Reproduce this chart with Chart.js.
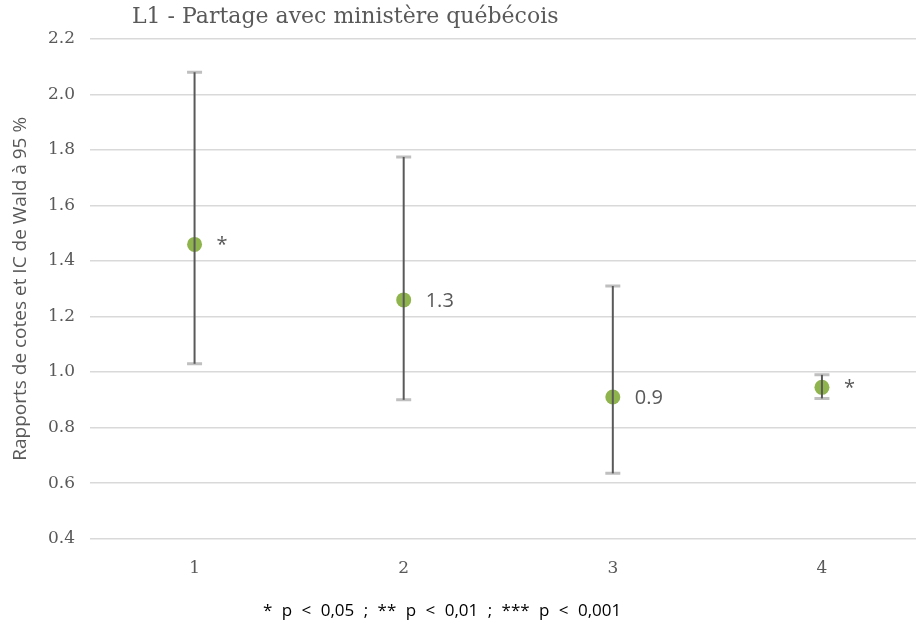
<!DOCTYPE html>
<html>
<head>
<meta charset="utf-8">
<script src="https://cdn.jsdelivr.net/npm/chart.js@4.4.1/dist/chart.umd.min.js"></script>
<style>
  body { margin: 0; background: #fff; overflow: hidden; }
  #wrap { position: absolute; left: 0; top: 0; width: 934px; height: 625px; }
  #title {
    position: absolute; left: 132px; top: 1px; line-height: 30px;
    font-family: "DejaVu Serif", serif; font-size: 22px; color: #595959;
    white-space: nowrap;
  }
  #note {
    position: absolute; left: 263px; top: 598px; line-height: 24px;
    font-family: "Open Sans", sans-serif; font-size: 17px; color: #000;
    word-spacing: 5px; white-space: nowrap;
  }
</style>
</head>
<body>
<div id="wrap"><canvas id="chart" width="934" height="625"></canvas></div>
<div id="title">L1 - Partage avec ministère québécois</div>
<div id="note">* p &lt; 0,05 ; ** p &lt; 0,01 ; *** p &lt; 0,001</div>
<script>
// DATA
const categories = ['1', '2', '3', '4'];
const oddsRatios = [1.46, 1.26, 0.91, 0.945];
const ciLower = [1.03, 0.90, 0.635, 0.905];
const ciUpper = [2.08, 1.775, 1.31, 0.99];
const pointLabels = ['*', '1.3', '0.9', '*'];
const yTicks = [0.4, 0.6, 0.8, 1.0, 1.2, 1.4, 1.6, 1.8, 2.0, 2.2];

const grey = '#595959';

// ERROR BARS + LABELS
const errorBars = {
    id: 'errorBars',
    afterDatasetsDraw(chart) {
        const ctx = chart.ctx;
        const y = chart.scales.y;
        const pts = chart.getDatasetMeta(0).data;
        ctx.save();
        pts.forEach((p, i) => {
            const yHi = y.getPixelForValue(ciUpper[i]);
            const yLo = y.getPixelForValue(ciLower[i]);
            // caps
            ctx.strokeStyle = '#bfbfbf';
            ctx.lineWidth = 3;
            ctx.beginPath();
            ctx.moveTo(p.x - 7.5, yHi); ctx.lineTo(p.x + 7.5, yHi);
            ctx.moveTo(p.x - 7.5, yLo); ctx.lineTo(p.x + 7.5, yLo);
            ctx.stroke();
            // whisker
            ctx.strokeStyle = grey;
            ctx.lineWidth = 2;
            ctx.beginPath();
            ctx.moveTo(p.x, yHi); ctx.lineTo(p.x, yLo);
            ctx.stroke();
            // label
            ctx.fillStyle = grey;
            ctx.font = '20px "Open Sans", sans-serif';
            ctx.textAlign = 'left';
            ctx.textBaseline = 'middle';
            ctx.fillText(pointLabels[i], p.x + 22, p.y + 1);
        });
        ctx.restore();
    }
};

new Chart(document.getElementById('chart'), {
    type: 'line',
    data: {
        labels: categories,
        datasets: [{
            data: oddsRatios,
            showLine: false,
            pointRadius: 7.5,
            pointHoverRadius: 7.5,
            pointBorderWidth: 0,
            pointBackgroundColor: '#8fb44d'
        }]
    },
    options: {
        responsive: false,
        animation: false,
        events: [],
        layout: { padding: { top: 39, left: 0, right: 0, bottom: 34 } },
        plugins: { legend: { display: false }, tooltip: { enabled: false } },
        scales: {
            x: {
                type: 'category',
                offset: true,
                grid: { display: false },
                border: { display: false },
                ticks: {
                    color: grey,
                    padding: 12,
                    font: { family: '"DejaVu Serif", serif', size: 17 }
                }
            },
            y: {
                min: 0.4,
                max: 2.2,
                afterBuildTicks: s => { s.ticks = yTicks.map(v => ({ value: v })); },
                afterFit: s => { s.width = 90; },
                grid: { color: '#d9d9d9', lineWidth: 1.5, drawTicks: false },
                border: { display: false },
                ticks: {
                    color: grey,
                    padding: 15,
                    font: { family: '"DejaVu Serif", serif', size: 17 },
                    callback: v => v.toFixed(1)
                },
                title: {
                    display: true,
                    text: 'Rapports de cotes et IC de Wald à 95 %',
                    color: grey,
                    padding: { top: 9, bottom: 0 },
                    font: { family: '"Open Sans", sans-serif', size: 19 }
                }
            }
        }
    },
    plugins: [errorBars]
});
</script>
</body>
</html>
